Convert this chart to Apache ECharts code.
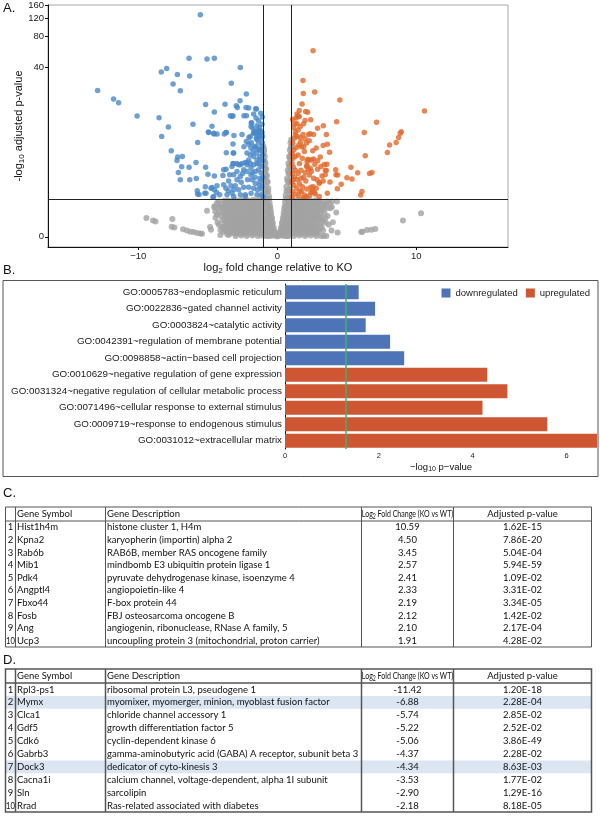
<!DOCTYPE html>
<html><head><meta charset="utf-8">
<script src="https://cdn.jsdelivr.net/npm/echarts@6.0.0/dist/echarts.min.js"></script>
<style>html,body{margin:0;padding:0;background:#fff}#c{width:600px;height:832px}</style>
</head><body><div id="c"></div><script>
// ---------------- DATA ----------------
// Volcano plot: [log2 fold change, -log10 adjusted p]
const downPoints = [
[-5.54,129],[-6.35,49],[-5.06,48.4],[-4.53,49],[-2.66,40],[-7.96,39],[-8.35,36],[-7.19,34],[-6.31,33],[-7.5,27.5],
[-3.31,28],[-6.98,23.6],[-12.93,23.7],[-2.23,21.9],[-11.78,19.5],[-11.42,17.9],[-2.68,18.7],[-5.16,17.2],[-3.76,17.3],[-2.88,16.0],
[-2.25,16.0],[-1.55,15.6],[-4.53,14.4],[-10.09,13.1],[-8.51,12.6],[-3.26,13.0],[-2.4,13.2],[-2.22,13.2],[-1.53,12.5],[-3.19,13.2],
[-3.38,13.2],[-1.78,9.85],[-1.87,11.1],[-2.06,15.8],[-2.95,16.7],[-7.84,10.1],[-6.07,10.8],[-4.7,10.3],[-1.85,11.2],[-1.89,10.2],
[-1.46,10.4],[-4.94,8.85],[-4.55,8.5],[-4.34,8.5],[-3.69,8.85],[-3.81,8.5],[-2.54,8.4],[-1.65,9.0],[-1.32,9.3],[-1.22,8.8],
[-8.32,8.0],[-2.04,7.8],[-1.44,8.0],[-1.06,8.0],[-7.63,5.6],[-7.17,4.74],[-6.83,4.8],[-7.22,4.33],[-6.88,3.64],[-7.12,3.1],
[-6.35,3.6],[-5.85,4.1],[-6.98,2.5],[-6.3,2.5],[-5.83,2.6],[-5.76,1.74],[-5.63,1.53],[-5.74,1.55],[-5.22,1.6],[-5.16,3.6],
[-4.99,2.95],[-4.53,2.8],[-5.13,1.6],[-4.77,1.9],[-4.7,1.95],[-4.53,1.8],[-4.34,2.06],[-4.37,1.64],[-4.63,1.38],[-3.91,2.83],
[-3.69,3.4],[-3.19,4.0],[-3.17,5.27],[-3.67,5.3],[-3.12,8.2],[-5.73,6.9],[-3.19,6.63],[-1.87,6.9],[-1.46,7.4],[-1.27,8.0],
[-2.18,5.27],[-2.06,4.4],[-1.7,4.8],[-1.46,4.4],[-1.27,4.8],[-3.26,3.67],[-2.78,3.86],[-2.54,4.0],[-3.86,3.35],[-3.43,2.89],
[-3.14,2.89],[-2.9,3.18],[-5.18,2.0],[-3.86,2.13],[-3.33,2.06],[-3.14,1.8],[-4.58,1.42],[-4.15,1.51],[-3.62,1.51],[-3.14,1.42],
[-2.66,1.51],[-2.3,1.42],[-3.53,1.75],[-2.18,4.09],[-1.1,8.85],[-1.29,8.7],[-1.46,8.4],[-1.7,8.7],[-1.51,7.7],[-1.17,7.7],
[-1.35,6.8],[-1.1,6.25],[-1.27,5.7],[-1.58,6.15],[-1.75,5.49],[-1.94,5.0],[-1.51,5.27],[-1.22,4.4],[-1.03,4.3],[-1.46,4.0],
[-1.7,3.86],[-1.94,4.0],[-1.1,3.67],[-1.35,3.35],[-1.17,3.04],[-1.58,3.18],[-1.89,3.51],[-2.18,3.18],[-2.42,3.35],[-2.66,3.86],
[-2.3,4.1],[-2.18,3.86],[-2.9,4.0],[-3.14,3.96],[-3.14,5.27],[-2.23,7.09],[-2.66,2.75],[-2.14,2.49],[-1.82,2.49],[-1.58,2.24],
[-1.22,2.36],[-1.1,2.01],[-1.42,1.8],[-1.7,1.9],[-2.06,1.97],[-2.42,1.97],[-2.78,1.8],[-3.02,2.06],[-3.26,1.6],[-2.3,1.51],
[-1.89,1.6],[-1.46,1.51],[-1.17,1.51],[-1.03,1.42],[-4.96,8.96],[-4.58,8.7],[-3.67,8.85],[-1.94,8.0],[-1.7,8.85],[-1.58,9.2],
[-1.37,9.05],[-1.22,9.3],[-1.51,15.5],[-1.05,2.7],[-1.25,2.6],[-1.6,2.7],[-1.9,2.9],[-1.15,1.85],[-1.3,2.1],[-2.6,2.3],
[-2.9,2.5],[-3.5,2.4],[-3.7,1.9],[-2.5,3.0],[-1.8,3.1],[-1.3,3.9],[-1.05,5.0],[-1.15,5.6],[-1.4,5.9],[-1.65,6.3],
[-1.9,6.0],[-2.05,6.6],[-2.4,6.2],[-1.3,10.0],[-1.1,10.8],[-1.35,11.7],[-1.08,12.8],[-1.2,14.0],[-1.7,13.8],[-1.08,6.9]
];
const upPoints = [
[2.57,58.2],[1.85,29.8],[1.87,22.2],[2.69,22.9],[4.5,19.1],[1.78,17.4],[1.58,14.9],[2.04,14.6],[2.18,14.3],[10.59,14.79],
[1.49,13.0],[1.58,13.0],[1.89,10.9],[1.42,10.9],[1.25,10.9],[1.18,10.0],[4.27,11.45],[7.14,11.3],[3.31,10.4],[6.26,8.85],
[8.92,9.0],[8.85,8.7],[8.73,7.8],[8.55,6.9],[8.08,6.5],[7.92,5.35],[3.53,8.4],[6.33,4.9],[3.76,5.4],[6.81,3.1],
[6.64,3.0],[6.09,1.7],[6.0,1.5],[5.3,3.6],[5.78,3.07],[5.01,2.65],[5.37,2.55],[4.6,2.17],[4.32,1.87],[4.2,3.35],
[4.22,2.9],[3.79,2.32],[3.38,3.88],[3.53,3.28],[3.45,3.3],[3.45,2.9],[3.09,4.74],[2.61,4.5],[2.47,4.4],[2.28,4.4],
[2.14,4.2],[3.02,2.24],[2.57,2.0],[2.52,1.78],[2.66,1.64],[2.42,1.64],[2.73,1.55],[3.02,1.42],[2.37,8.6],[2.61,8.4],
[2.25,8.4],[1.85,8.4],[1.65,7.8],[1.42,8.0],[1.22,7.7],[1.29,8.3],[1.1,12.1],[1.42,13.8],[1.68,7.0],[1.73,6.2],
[1.37,6.1],[1.18,5.7],[1.06,5.2],[1.13,4.6],[2.9,4.3],[3.14,3.67],[2.14,3.77],[2.23,3.35],[2.37,3.5],[2.45,3.18],
[2.3,2.87],[2.61,2.62],[2.86,2.49],[3.04,2.29],[3.22,2.8],[4.34,2.87],[3.57,3.9],[2.41,1.96],[2.33,1.48],[2.19,4.48],
[2.12,1.85],[2.10,3.66],[1.91,1.37],[1.05,4.0],[1.15,3.6],[1.3,3.3],[1.1,3.0],[1.25,2.7],[1.45,2.5],[1.05,2.3],
[1.2,2.1],[1.4,1.9],[1.6,2.2],[1.8,2.0],[1.1,1.7],[1.3,1.55],[1.55,1.45],[1.75,1.7],[1.95,1.5],[2.1,1.4],
[1.08,1.38],[1.5,3.0],[1.7,3.3],[1.9,2.7],[2.0,3.1],[1.6,4.0],[1.8,4.6],[1.95,5.5],[1.5,5.0],[1.3,4.8],
[1.55,6.5],[1.9,6.2],[2.1,6.8],[2.3,7.2],[2.0,7.6],[1.12,6.8],[1.3,9.0],[1.5,9.4],[1.65,10.2],[2.0,11.8],
[1.35,12.5],[2.4,12.0],[2.9,9.8],[2.8,6.0],[3.3,6.4],[2.55,5.6],[3.6,6.6],[2.7,3.9],[2.9,3.4],[3.3,2.4],
[3.6,1.6],[2.8,1.9],[1.7,2.6],[2.05,2.4],[1.15,2.5],[1.6,1.7]
];
const grayPoints = [
// left, below cut-off
[-4.22,1.17],[-3.81,1.2],[-3.55,1.22],[-3.3,1.18],[-3.05,1.25],[-2.8,1.2],[-2.58,1.24],[-2.35,1.19],[-2.12,1.23],[-1.9,1.18],[-1.72,1.25],[-1.52,1.2],[-1.33,1.24],[-1.15,1.2],[-1.02,1.26],
[-4.35,1.1],[-4.0,1.08],[-3.68,1.12],[-3.42,1.1],[-3.18,1.12],[-2.92,1.1],[-2.68,1.12],[-2.46,1.09],[-2.24,1.12],[-2.02,1.1],[-1.82,1.12],[-1.62,1.09],[-1.42,1.12],[-1.24,1.1],[-1.08,1.12],
[-4.52,0.95],[-4.1,0.94],[-3.86,0.9],[-3.69,1.09],[-3.45,1.0],[-3.2,1.05],[-2.95,0.98],[-2.7,1.04],[-2.48,0.99],[-2.25,1.06],[-2.03,1.0],[-1.83,1.05],[-1.62,0.98],[-1.42,1.04],[-1.22,1.0],[-1.06,1.05],
[-4.25,0.88],[-3.95,0.86],[-3.7,0.9],[-3.45,0.88],[-3.22,0.9],[-2.98,0.88],[-2.75,0.91],[-2.53,0.88],[-2.32,0.9],[-2.1,0.88],[-1.9,0.91],[-1.7,0.88],[-1.5,0.9],[-1.3,0.88],[-1.12,0.9],
[-5.06,0.77],[-4.46,0.74],[-3.81,0.74],[-3.58,0.82],[-3.33,0.78],[-3.1,0.84],[-2.87,0.79],[-2.63,0.83],[-2.42,0.78],[-2.2,0.82],[-2.0,0.77],[-1.8,0.83],[-1.6,0.79],[-1.4,0.84],[-1.2,0.78],[-1.04,0.82],
[-4.2,0.7],[-3.92,0.68],[-3.66,0.7],[-3.42,0.69],[-3.18,0.71],[-2.96,0.69],[-2.74,0.71],[-2.52,0.69],[-2.3,0.71],[-2.1,0.69],[-1.9,0.71],[-1.7,0.69],[-1.5,0.71],[-1.3,0.69],[-1.1,0.71],
[-4.34,0.62],[-4.05,0.58],[-3.74,0.56],[-3.48,0.63],[-3.24,0.6],[-3.0,0.64],[-2.77,0.58],[-2.55,0.63],[-2.33,0.59],[-2.12,0.64],[-1.92,0.58],[-1.72,0.62],[-1.52,0.59],[-1.32,0.64],[-1.12,0.6],
[-4.45,0.52],[-3.8,0.51],[-3.55,0.53],[-3.3,0.51],[-3.08,0.53],[-2.86,0.52],[-2.64,0.53],[-2.42,0.51],[-2.2,0.53],[-2.0,0.52],[-1.8,0.53],[-1.6,0.51],[-1.4,0.53],[-1.2,0.52],[-1.03,0.53],
[-3.95,0.44],[-3.62,0.42],[-3.38,0.47],[-3.15,0.43],[-2.92,0.48],[-2.68,0.44],[-2.46,0.47],[-2.25,0.43],[-2.05,0.48],[-1.85,0.44],[-1.65,0.47],[-1.45,0.43],[-1.25,0.48],[-1.06,0.44],
[-4.3,0.37],[-3.78,0.37],[-3.52,0.38],[-3.28,0.36],[-3.05,0.38],[-2.83,0.37],[-2.61,0.38],[-2.4,0.36],[-2.2,0.38],[-2.0,0.37],[-1.8,0.38],[-1.6,0.36],[-1.4,0.38],[-1.2,0.37],[-1.02,0.38],
[-4.2,0.3],[-3.86,0.25],[-3.62,0.33],[-3.4,0.29],[-3.18,0.32],[-2.95,0.28],[-2.72,0.31],[-2.5,0.27],[-2.3,0.32],[-2.1,0.28],[-1.9,0.31],[-1.7,0.27],[-1.5,0.32],[-1.3,0.28],[-1.1,0.31],
[-3.98,0.24],[-3.72,0.23],[-3.48,0.24],[-3.24,0.23],[-3.0,0.24],[-2.78,0.23],[-2.56,0.24],[-2.36,0.23],[-2.16,0.24],[-1.96,0.23],[-1.76,0.24],[-1.56,0.23],[-1.36,0.24],[-1.16,0.23],
[-4.84,0.24],[-4.77,0.17],[-4.1,0.17],[-3.75,0.19],[-3.5,0.16],[-3.25,0.19],[-3.02,0.16],[-2.8,0.19],[-2.58,0.16],[-2.38,0.19],[-2.18,0.16],[-1.98,0.19],[-1.78,0.16],[-1.58,0.19],[-1.38,0.16],[-1.18,0.19],[-1.03,0.16],
[-3.9,0.12],[-3.65,0.12],[-3.4,0.13],[-3.15,0.12],[-2.9,0.13],[-2.68,0.12],[-2.47,0.13],[-2.27,0.12],[-2.07,0.13],[-1.87,0.12],[-1.67,0.13],[-1.47,0.12],[-1.27,0.13],[-1.08,0.12],
[-3.38,0.08],[-3.6,0.06],[-3.15,0.09],[-2.92,0.07],[-2.7,0.09],[-2.48,0.07],[-2.27,0.09],[-2.07,0.07],[-1.87,0.09],[-1.67,0.07],[-1.47,0.09],[-1.27,0.07],[-1.08,0.09],
[-4.1,0.04],[-3.5,0.04],[-3.0,0.02],[-2.6,0.03],[-2.2,0.02],[-1.8,0.03],[-1.4,0.02],[-1.1,0.03],
// left outliers
[-9.42,0.51],[-8.94,0.43],[-8.76,0.40],[-7.55,0.48],[-7.6,0.25],[-7.41,0.23],[-6.78,0.18],[-6.5,0.15],[-6.26,0.12],[-6.02,0.11],[-5.78,0.09],[-5.54,0.075],[-5.42,0.07],[-4.53,0.9],
// central V, left arm
[-1.0,6.3],[-0.95,5.8],[-1.0,5.2],[-0.9,4.8],[-0.98,4.4],[-0.85,4.0],[-0.95,3.7],[-0.8,3.4],[-0.92,3.1],[-0.75,2.8],[-0.88,2.6],[-0.7,2.3],[-0.82,2.1],[-0.95,2.3],[-0.65,1.9],[-0.78,1.7],[-0.92,1.6],[-0.6,1.45],[-0.72,1.3],[-0.88,1.2],
[-0.55,1.1],[-0.68,1.0],[-0.82,0.95],[-0.97,1.0],[-0.5,0.85],[-0.62,0.8],[-0.77,0.75],[-0.92,0.7],[-0.45,0.62],[-0.58,0.6],[-0.72,0.55],[-0.86,0.5],[-0.4,0.45],[-0.52,0.42],[-0.66,0.4],[-0.8,0.38],[-0.95,0.4],
[-0.35,0.3],[-0.48,0.28],[-0.62,0.27],[-0.76,0.25],[-0.9,0.24],[-0.3,0.18],[-0.42,0.17],[-0.55,0.16],[-0.7,0.15],[-0.85,0.14],[-0.98,0.15],[-0.22,0.1],[-0.35,0.09],[-0.48,0.08],[-0.62,0.08],[-0.77,0.07],[-0.92,0.06],
[-0.15,0.04],[-0.28,0.03],[-0.42,0.03],[-0.56,0.02],[-0.7,0.02],[-0.85,0.02],[-0.05,0.01],
[-0.97,5.5],[-0.9,4.2],[-0.85,3.5],[-0.78,2.9],[-0.72,2.4],[-0.65,1.7],[-0.58,1.3],[-0.52,0.95],[-0.45,0.72],[-0.38,0.52],[-0.32,0.36],[-0.25,0.22],[-0.18,0.12],[-0.1,0.05],[-0.9,3.3],[-0.96,2.6],[-0.85,1.8],[-0.93,1.35],[-0.75,1.1],
// central V, right arm
[1.0,7.4],[0.95,6.8],[1.02,6.2],[0.9,5.7],[0.98,5.2],[0.85,4.8],[0.95,4.4],[0.8,4.0],[0.92,3.6],[0.75,3.3],[0.88,3.0],[0.98,2.7],[0.7,2.6],[0.82,2.3],[0.95,2.0],[0.65,2.0],[0.78,1.75],[0.9,1.55],[0.6,1.5],[0.72,1.35],
[0.86,1.2],[0.98,1.3],[0.55,1.15],[0.68,1.0],[0.8,0.95],[0.94,0.9],[0.5,0.85],[0.62,0.78],[0.75,0.72],[0.88,0.68],[0.45,0.6],[0.57,0.56],[0.7,0.52],[0.83,0.5],[0.97,0.55],[0.4,0.42],[0.52,0.4],[0.65,0.38],[0.78,0.35],[0.92,0.33],
[0.35,0.3],[0.47,0.28],[0.6,0.26],[0.73,0.24],[0.87,0.23],[1.0,0.25],[0.3,0.18],[0.42,0.17],[0.55,0.16],[0.68,0.15],[0.82,0.14],[0.96,0.14],[0.22,0.1],[0.35,0.09],[0.48,0.08],[0.62,0.08],[0.76,0.07],[0.9,0.06],
[0.15,0.04],[0.28,0.03],[0.42,0.03],[0.56,0.02],[0.7,0.02],[0.85,0.02],[0.05,0.01],
[0.97,6.0],[0.9,4.6],[0.85,3.7],[0.8,3.0],[0.73,2.4],[0.66,1.75],[0.6,1.3],[0.53,0.95],[0.46,0.7],[0.4,0.5],[0.33,0.36],[0.26,0.22],[0.18,0.12],[0.1,0.05],[0.93,3.2],[0.97,2.4],[0.88,1.8],[0.94,1.4],[0.78,1.15],
// right, below cut-off
[1.05,1.22],[1.25,1.18],[1.45,1.24],[1.65,1.19],[1.85,1.25],[2.05,1.2],[2.3,1.24],[2.55,1.18],[2.8,1.23],[3.05,1.19],[3.58,1.17],[3.93,1.17],[4.29,1.17],
[1.15,1.1],[1.35,1.12],[1.55,1.09],[1.75,1.12],[1.95,1.1],[2.18,1.12],[2.42,1.09],[2.68,1.12],[2.95,1.1],[3.25,1.12],[3.5,1.08],[3.75,1.1],
[1.1,1.0],[1.3,1.05],[1.5,0.98],[1.7,1.04],[1.9,0.99],[2.1,1.05],[2.32,0.98],[2.58,1.03],[2.85,0.99],[3.15,1.03],[3.4,0.97],
[1.05,0.9],[1.25,0.88],[1.45,0.9],[1.65,0.88],[1.85,0.9],[2.05,0.88],[2.28,0.9],[2.52,0.88],[2.78,0.9],[3.05,0.88],[3.35,0.9],[3.6,0.88],
[1.02,0.8],[1.2,0.84],[1.4,0.78],[1.6,0.83],[1.8,0.79],[2.0,0.84],[2.22,0.78],[2.45,0.83],[2.7,0.79],[2.98,0.82],[3.25,0.78],[3.81,0.87],[3.93,0.92],[4.24,0.7],
[1.12,0.7],[1.32,0.71],[1.52,0.69],[1.72,0.71],[1.92,0.69],[2.12,0.71],[2.35,0.69],[2.6,0.71],[2.85,0.69],[3.12,0.71],[3.4,0.69],
[1.08,0.62],[1.28,0.58],[1.48,0.63],[1.68,0.59],[1.88,0.64],[2.08,0.58],[2.3,0.63],[2.55,0.59],[2.8,0.64],[3.05,0.59],[3.45,0.51],[3.62,0.58],
[1.15,0.52],[1.35,0.53],[1.55,0.51],[1.75,0.53],[1.95,0.52],[2.18,0.53],[2.42,0.51],[2.68,0.53],[2.92,0.52],[3.2,0.53],
[1.03,0.44],[1.22,0.47],[1.42,0.43],[1.62,0.48],[1.82,0.44],[2.02,0.47],[2.22,0.43],[2.45,0.48],[2.7,0.44],[2.98,0.47],[3.3,0.42],
[1.18,0.37],[1.38,0.38],[1.58,0.36],[1.78,0.38],[1.98,0.37],[2.18,0.38],[2.4,0.36],[2.65,0.38],[2.92,0.37],[3.2,0.38],[3.5,0.36],
[1.1,0.3],[1.3,0.27],[1.5,0.32],[1.7,0.28],[1.9,0.31],[2.1,0.27],[2.32,0.32],[2.55,0.28],[2.8,0.31],[3.1,0.27],[3.7,0.3],[4.0,0.38],
[1.2,0.24],[1.4,0.23],[1.6,0.24],[1.8,0.23],[2.0,0.24],[2.2,0.23],[2.42,0.24],[2.65,0.23],[2.9,0.24],[3.2,0.23],
[1.05,0.17],[1.25,0.19],[1.45,0.16],[1.65,0.19],[1.85,0.16],[2.05,0.19],[2.27,0.16],[2.5,0.19],[2.75,0.16],[3.02,0.18],[3.3,0.15],[3.9,0.15],
[1.2,0.12],[1.4,0.13],[1.6,0.12],[1.8,0.13],[2.0,0.12],[2.2,0.13],[2.45,0.12],[2.7,0.13],[2.95,0.12],
[1.12,0.08],[1.32,0.07],[1.52,0.09],[1.72,0.07],[1.92,0.09],[2.12,0.07],[2.35,0.09],[2.6,0.07],[2.85,0.08],[4.34,0.1],
[1.2,0.02],[1.6,0.03],[2.0,0.02],[2.4,0.03],[2.8,0.02],[3.14,0.02],[3.33,0.02],[3.53,0.02],
// right outliers
[10.34,0.68],[9.04,0.43],[7.05,0.19],[6.76,0.17],[6.45,0.16],[6.12,0.12],[6.04,0.11]
];
const volcanoXTicks = [-10, 0, 10];
const volcanoYTicks = [0, 40, 80, 120, 160];
const fcCutoff = 1;
const pCutoff = 1.301;

// GO enrichment bars
const goTerms = [
'GO:0005783~endoplasmic reticulum',
'GO:0022836~gated channel activity',
'GO:0003824~catalytic activity',
'GO:0042391~regulation of membrane potential',
'GO:0098858~actin\u2212based cell projection',
'GO:0010629~negative regulation of gene expression',
'GO:0031324~negative regulation of cellular metabolic process',
'GO:0071496~cellular response to external stimulus',
'GO:0009719~response to endogenous stimulus',
'GO:0031012~extracellular matrix'
];
const goValues = [1.57, 1.92, 1.72, 2.24, 2.54, 4.31, 4.74, 4.21, 5.59, 6.65];
const goDirection = ['down','down','down','down','down','up','up','up','up','up'];
const goTicks = [0, 2, 4, 6];
const goCutoff = 1.301;

// Table C (upregulated)
const cSymbols = ['Hist1h4m','Kpna2','Rab6b','Mib1','Pdk4','Angptl4','Fbxo44','Fosb','Ang','Ucp3'];
const cDescriptions = ['histone cluster 1, H4m','karyopherin (importin) alpha 2','RAB6B, member RAS oncogene family','mindbomb E3 ubiquitin protein ligase 1','pyruvate dehydrogenase kinase, isoenzyme 4','angiopoietin-like 4','F-box protein 44','FBJ osteosarcoma oncogene B','angiogenin, ribonuclease, RNase A family, 5','uncoupling protein 3 (mitochondrial, proton carrier)'];
const cFold = [10.59, 4.50, 3.45, 2.57, 2.41, 2.33, 2.19, 2.12, 2.10, 1.91];
const cPadj = ['1.62E-15','7.86E-20','5.04E-04','5.94E-59','1.09E-02','3.31E-02','3.34E-05','1.42E-02','2.17E-04','4.28E-02'];
// Table D (downregulated)
const dSymbols = ['Rpl3-ps1','Mymx','Clca1','Gdf5','Cdk6','Gabrb3','Dock3','Cacna1i','Sln','Rrad'];
const dDescriptions = ['ribosomal protein L3, pseudogene 1','myomixer, myomerger, minion, myoblast fusion factor','chloride channel accessory 1','growth differentiation factor 5','cyclin-dependent kinase 6','gamma-aminobutyric acid (GABA) A receptor, subunit beta 3','dedicator of cyto-kinesis 3','calcium channel, voltage-dependent, alpha 1I subunit','sarcolipin','Ras-related associated with diabetes'];
const dFold = [-11.42, -6.88, -5.74, -5.22, -5.06, -4.37, -4.34, -3.53, -2.90, -2.18];
const dPadj = ['1.20E-18','2.28E-04','2.85E-02','2.52E-02','3.86E-49','2.28E-02','8.63E-03','1.77E-02','1.29E-16','8.18E-05'];
const dHighlight = [1, 6];
const tableHeaders = ['Gene Symbol', 'Gene Description', 'Log2 Fold Change (KO vs WT)', 'Adjusted p-value'];

// ---------------- RENDER ----------------
const F = "'Liberation Sans', Arial, Helvetica, sans-serif";
const TF = "Lato, Carlito, Calibri, sans-serif";
const tY = v => Math.log10(1 + v);   // y-scale of the volcano plot: log10(1 + -log10 p)

function subRich(fs, color, family) {
  return {
    n: {fontSize: fs, lineHeight: Math.round(fs * 1.3), color, fontFamily: family, verticalAlign: 'middle'},
    s: {fontSize: Math.round(fs * 0.7), lineHeight: Math.round(fs * 0.7), color, fontFamily: family, verticalAlign: 'bottom'}
  };
}

const chart = echarts.init(document.getElementById('c'), null, {renderer: 'canvas', width: 600, height: 832});

const downBars = goValues.map((v, i) => goDirection[i] === 'down' ? v : '-');
const upBars = goValues.map((v, i) => goDirection[i] === 'up' ? v : '-');

// tables as graphic elements
function buildTable(top, headerH, rowH, symbols, descs, folds, padj, style) {
  const els = [];
  const cols = [5.5, 15.5, 105.5, 361.5, 453.5, 591.5];
  const L = cols[0], R = cols[cols.length - 1];
  const bottom = top + headerH + rowH * symbols.length;
  (style.highlight || []).forEach(i => els.push({type: 'rect', z: 1,
    shape: {x: L, y: top + headerH + rowH * i, width: R - L, height: rowH}, style: {fill: '#dce6f2'}}));
  els.push({type: 'rect', z: 5, shape: {x: L, y: top, width: R - L, height: bottom - top},
    style: {fill: 'none', stroke: style.stroke, lineWidth: style.lw}});
  els.push({type: 'line', z: 5, shape: {x1: L, y1: top + headerH, x2: R, y2: top + headerH},
    style: {stroke: style.stroke, lineWidth: style.lw}});
  cols.slice(1, -1).forEach(x => els.push({type: 'line', z: 5, shape: {x1: x, y1: top, x2: x, y2: bottom},
    style: {stroke: style.stroke, lineWidth: style.lw}}));
  const fs = 9.5;
  const txt = (text, x, y, align, extra, sx) => ({type: 'text', z: 6, x, y, scaleX: sx || 1,
    style: Object.assign({text, fontSize: fs, fontFamily: TF, fill: '#111', align, textAlign: align,
      verticalAlign: 'middle', textVerticalAlign: 'middle'}, extra || {})});
  const hy = top + headerH / 2;
  els.push(txt(tableHeaders[0], 17, hy, 'left'));
  els.push(txt(tableHeaders[1], 107, hy, 'left'));
  els.push(txt('{n|Log}{s|2}{n| Fold Change (KO vs WT)}', 407.5, hy, 'center', {rich: subRich(fs, '#111', TF)}, 0.74));
  els.push(txt(tableHeaders[3], 522.5, hy, 'center'));
  symbols.forEach((s, i) => {
    const y = top + headerH + rowH * (i + 0.5);
    els.push(txt(String(i + 1), 10.5, y, 'center', null, i + 1 >= 10 ? 0.8 : 1));
    els.push(txt(s, 17, y, 'left'));
    els.push(txt(descs[i], 107, y, 'left'));
    els.push(txt(folds[i].toFixed(2), 407.5, y, 'center'));
    els.push(txt(padj[i], 522.5, y, 'center'));
  });
  return els;
}

const panelLabel = (t, y) => ({type: 'text', x: 3, y, z: 6,
  style: {text: t, fontSize: 13, fontFamily: F, fill: '#111'}});

const graphics = [].concat(
  [panelLabel('A.', 2), panelLabel('B.', 264), panelLabel('C.', 487), panelLabel('D.', 654)],
  [{type: 'rect', z: 0, shape: {x: 3, y: 280.5, width: 595, height: 196}, style: {fill: 'none', stroke: '#555', lineWidth: 1}}],
  buildTable(507, 14, 12.6, cSymbols, cDescriptions, cFold, cPadj, {stroke: '#555', lw: 1}),
  buildTable(669, 14, 12.9, dSymbols, dDescriptions, dFold, dPadj, {stroke: '#555', lw: 1.5, highlight: dHighlight})
);

const option = {
  animation: false,
  backgroundColor: '#fff',
  textStyle: {fontFamily: F},
  grid: [
    {left: 48, top: 5, width: 460, height: 242, show: true, borderColor: '#a8a8a8', borderWidth: 1, backgroundColor: 'transparent',
     containLabel: false, outerBoundsMode: 'none'},
    {left: 285, top: 284, width: 312, height: 165, containLabel: false, outerBoundsMode: 'none'}
  ],
  legend: {
    data: ['downregulated', 'upregulated'], right: 5, top: 283, icon: 'rect', itemWidth: 9, itemHeight: 9, itemGap: 8,
    textStyle: {fontSize: 9.5, color: '#222', fontFamily: F}
  },
  xAxis: [
    {gridIndex: 0, type: 'value', min: -16.5, max: 16.6, splitLine: {show: false},
     axisLine: {onZero: false, lineStyle: {color: '#111', width: 1}},
     axisTick: {length: 3, customValues: volcanoXTicks, lineStyle: {color: '#111'}},
     axisLabel: {customValues: volcanoXTicks, fontSize: 9.5, color: '#222', margin: 4, fontFamily: F,
       formatter: v => v < 0 ? '\u2212' + Math.abs(v) : String(v)},
     name: '{n|log}{s|2}{n| fold change relative to KO}', nameLocation: 'middle', nameGap: 14, nameMoveOverlap: false,
     nameTextStyle: {rich: subRich(11, '#111', F)}},
    {gridIndex: 1, type: 'value', min: 0, max: 6.65, splitLine: {show: false},
     axisLine: {onZero: false, lineStyle: {color: '#111', width: 1}},
     axisTick: {length: 2, customValues: goTicks, lineStyle: {color: '#111'}},
     axisLabel: {customValues: goTicks, fontSize: 7.5, color: '#222', margin: 3, fontFamily: F},
     name: '{n|\u2212log}{s|10}{n| p\u2212value}', nameLocation: 'middle', nameGap: 12, nameMoveOverlap: false,
     nameTextStyle: {rich: subRich(9.5, '#111', F)}}
  ],
  yAxis: [
    {gridIndex: 0, type: 'value', min: tY(-0.2), max: tY(160), splitLine: {show: false},
     axisLine: {onZero: false, lineStyle: {color: '#111', width: 1}},
     axisTick: {length: 3, customValues: volcanoYTicks.map(tY), lineStyle: {color: '#111'}},
     axisLabel: {customValues: volcanoYTicks.map(tY), fontSize: 9.5, color: '#222', margin: 4, fontFamily: F,
       formatter: v => String(Math.round(Math.pow(10, v) - 1))},
     name: '{n|-log}{s|10}{n| adjusted p-value}', nameLocation: 'middle', nameGap: 22, nameRotate: 90, nameMoveOverlap: false,
     nameTextStyle: {rich: subRich(11, '#111', F)}},
    {gridIndex: 1, type: 'category', data: goTerms, inverse: true,
     axisLine: {lineStyle: {color: '#111', width: 1}},
     axisTick: {length: 2, alignWithLabel: true, lineStyle: {color: '#111'}},
     axisLabel: {fontSize: 9.8, color: '#1a1a1a', margin: 3, fontFamily: F}}
  ],
  series: [
    {type: 'scatter', name: 'ns', xAxisIndex: 0, yAxisIndex: 0, symbolSize: 6, silent: true,
     itemStyle: {color: '#a3a3a3'}, data: grayPoints.map(p => [p[0], tY(p[1])]),
     markLine: {silent: true, symbol: ['none', 'none'], label: {show: false},
       lineStyle: {color: '#222', width: 1, type: 'solid'},
       data: [{xAxis: -fcCutoff}, {xAxis: fcCutoff}, {yAxis: tY(pCutoff)}]}},
    {type: 'scatter', name: 'down', xAxisIndex: 0, yAxisIndex: 0, symbolSize: 5.5, silent: true,
     itemStyle: {color: '#4a88c8'}, data: downPoints.map(p => [p[0], tY(p[1])])},
    {type: 'scatter', name: 'up', xAxisIndex: 0, yAxisIndex: 0, symbolSize: 5.5, silent: true,
     itemStyle: {color: '#e2692a'}, data: upPoints.map(p => [p[0], tY(p[1])])},
    {type: 'bar', name: 'downregulated', xAxisIndex: 1, yAxisIndex: 1, data: downBars, barWidth: 14, barGap: '-100%',
     itemStyle: {color: '#4e73b7'}},
    {type: 'bar', name: 'upregulated', xAxisIndex: 1, yAxisIndex: 1, data: upBars, barWidth: 14, barGap: '-100%',
     itemStyle: {color: '#cf5632'},
     markLine: {silent: true, symbol: ['none', 'none'], label: {show: false},
       lineStyle: {color: '#3cb371', width: 1.5, type: 'solid'}, data: [{xAxis: goCutoff}]}}
  ],
  graphic: {elements: graphics}
};
chart.setOption(option);
</script></body></html>
